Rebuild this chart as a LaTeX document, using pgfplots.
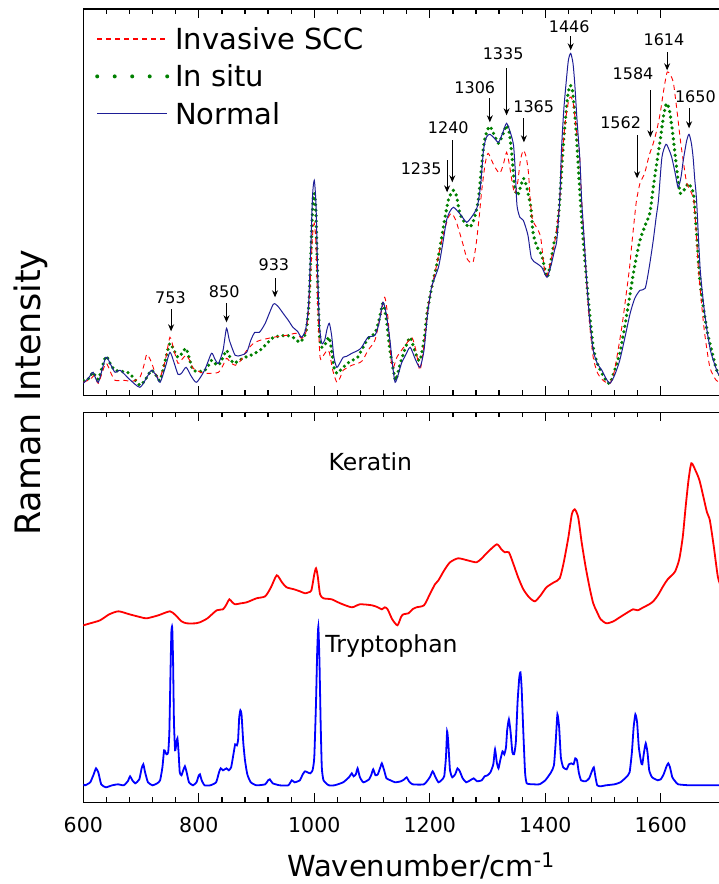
\documentclass[border=0pt]{standalone}
\usepackage{fontspec}
\setmainfont{DejaVu Sans}
\usepackage{pgfplots}
\pgfplotsset{compat=1.18}
\usetikzlibrary{arrows.meta}
\definecolor{sccred}{RGB}{255,0,0}
\definecolor{insitu}{RGB}{0,128,0}
\definecolor{normal}{RGB}{30,30,150}
\definecolor{kerc}{RGB}{255,0,0}
\definecolor{trpc}{RGB}{0,0,255}
\pgfplotsset{
 panel/.style={
  scale only axis, width=638.1pt, xmin=600, xmax=1705, ymin=0,
  xtick={600,800,...,1600}, minor x tick num=4, ytick=\empty,
  major tick length=9pt, minor tick length=5pt, tick align=inside,
  axis line style={line width=1.3pt},
  every tick/.style={black, line width=1.3pt},
  /pgf/number format/assume math mode=true,
  /pgf/number format/1000 sep={},
  xticklabel style={font=\fontsize{20.5}{20.5}\selectfont, inner sep=0pt, yshift=-14.4pt},
 },
}
\tikzset{
 ann/.style={font=\fontsize{16}{16}\selectfont, inner sep=0pt},
 arr/.style={line width=1pt, -{Stealth[length=7pt,width=6pt]}},
}
\begin{document}
\begin{tikzpicture}
% ---------------- top panel ----------------
\begin{axis}[panel, at={(83.3pt,-9pt)}, anchor=north west, height=386.3pt, ymax=386.3,
  xticklabels=\empty,
  legend cell align=left,
  legend style={draw=none, fill=none, inner sep=0pt, at={(axis cs:620.3,367)}, anchor=north west,
    font=\fontsize{29}{29}\selectfont, row sep=10.4pt,
    nodes={inner sep=0pt, text height=21pt, text depth=6pt},
    /tikz/every odd column/.append style={column sep=6pt}},
]
\addlegendimage{legend image code/.code={\draw[sccred, line width=1.1pt, dash pattern=on 5pt off 4pt] (0pt,3pt) -- (70pt,3pt);}}
\addlegendentry{Invasive SCC}
\addlegendimage{legend image code/.code={\draw[insitu, line width=4pt, line cap=round, dash pattern=on 0pt off 17.5pt] (0pt,3pt) -- (70pt,3pt);}}
\addlegendentry{In situ}
\addlegendimage{legend image code/.code={\draw[normal, line width=1pt] (0pt,3pt) -- (70pt,3pt);}}
\addlegendentry{Normal}
% In situ
\addplot[insitu, line width=3.6pt, line cap=round, dash pattern=on 0pt off 5.5pt, smooth, tension=0.4, forget plot] table {
x y
600 15
610 17
617 23
626 16
639 39
648 30
655 25
664 24
680 22
698 10
710 18
718 25
726 20
733 15
742 35
750 52
757 45
764 38
771 42
778 47
784 36
790 25
800 24
808 24
815 28
822 35
828 32
834 30
842 38
848 45
854 38
860 32
870 35
880 38
890 40
906 45
915 50
929 58
940 59
952 60
963 58
970 55
975 53
982 58
987 68
991 95
994 140
997 185
1000 202
1003 180
1006 110
1009 60
1013 48
1018 50
1022 55
1026 58
1030 45
1034 28
1039 22
1045 25
1050 28
1060 33
1075 38
1079 42
1093 57
1105 62
1112 75
1119 92
1125 75
1131 45
1137 25
1141 15
1148 30
1158 48
1166 58
1172 48
1178 38
1183 35
1190 55
1196 85
1203 107
1210 125
1217 145
1224 170
1232 195
1238 203
1241 205
1246 200
1252 182
1260 173
1269 168
1276 175
1284 195
1293 248
1298 262
1304 269
1312 260
1319 252
1326 260
1333 270
1338 262
1343 235
1347 208
1352 200
1358 210
1362 217
1366 212
1371 200
1375 188
1379 162
1386 148
1394 140
1403 118
1410 135
1416 155
1420 162
1425 195
1430 240
1434 270
1439 300
1443 310
1447 305
1452 275
1456 240
1460 202
1465 160
1472 112
1478 75
1483 48
1490 32
1498 22
1505 15
1512 12
1520 25
1529 42
1538 70
1547 102
1555 130
1564 155
1573 170
1581 182
1587 208
1593 232
1599 255
1605 280
1610 292
1615 285
1620 265
1625 240
1630 215
1634 202
1640 205
1648 212
1653 207
1657 200
1662 162
1667 120
1672 95
1680 65
1688 45
1697 25
1705 18
};
% Invasive SCC
\addplot[sccred, line width=0.9pt, dash pattern=on 5pt off 4pt, smooth, tension=0.4, forget plot] table {
x y
600 13
612 16
620 20
626 12
639 32
648 22
655 15
670 15
685 14
698 18
705 30
710 41
718 33
726 20
733 18
742 35
750 58
757 45
764 32
771 36
778 40
785 34
790 27
800 24
808 22
820 22
834 23
842 30
848 37
855 33
863 30
873 35
883 45
895 52
906 55
929 58
952 60
969 62
978 57
985 62
990 85
994 125
997 160
1000 172
1003 150
1006 90
1010 38
1016 40
1022 45
1026 43
1032 25
1039 13
1045 18
1050 25
1065 30
1076 32
1084 35
1093 45
1105 55
1114 78
1122 98
1128 75
1133 35
1137 28
1143 38
1151 45
1160 52
1169 58
1176 45
1183 25
1190 50
1196 85
1203 107
1210 125
1217 145
1224 162
1232 178
1238 182
1245 175
1252 162
1258 150
1264 137
1270 133
1275 133
1280 150
1285 175
1290 205
1296 232
1301 242
1307 235
1313 228
1321 222
1327 230
1333 243
1338 230
1343 212
1347 202
1352 212
1357 235
1362 245
1367 238
1371 222
1374 195
1378 175
1385 168
1392 158
1398 128
1403 120
1410 135
1416 152
1420 168
1425 195
1430 245
1435 275
1441 296
1445 298
1449 290
1454 265
1459 245
1463 195
1468 150
1472 108
1477 70
1483 38
1490 23
1498 16
1505 13
1512 12
1518 20
1524 38
1533 70
1541 105
1546 128
1550 152
1555 180
1558 195
1564 212
1572 222
1580 240
1587 252
1593 265
1599 282
1605 305
1611 323
1617 320
1622 312
1628 285
1634 255
1640 230
1645 212
1651 205
1657 195
1661 165
1665 128
1670 95
1676 62
1685 28
1696 15
1705 12
};
% Normal
\addplot[normal, line width=1pt, smooth, tension=0.4, forget plot] table {
x y
600 12
610 18
617 23
626 13
639 38
648 30
655 23
664 25
680 16
698 8
710 18
718 25
726 20
733 13
742 28
750 43
757 33
764 21
770 22
778 28
786 20
796 13
810 25
822 42
828 36
834 32
842 45
848 67
853 55
863 40
873 40
883 43
890 55
897 63
905 63
915 72
929 91
937 89
946 82
955 75
963 68
971 64
978 58
985 66
990 90
994 150
997 200
1000 215
1003 190
1006 120
1009 70
1013 52
1018 55
1022 66
1026 72
1030 60
1034 38
1039 28
1045 33
1050 38
1056 39
1065 42
1076 45
1082 48
1093 58
1105 60
1112 72
1119 93
1125 80
1131 55
1136 28
1140 13
1145 20
1151 32
1158 40
1166 48
1175 36
1183 28
1190 45
1196 80
1203 108
1215 128
1222 150
1229 175
1235 184
1241 188
1250 183
1258 177
1264 173
1272 178
1282 188
1288 210
1293 245
1298 258
1304 261
1312 257
1319 253
1326 262
1333 272
1340 262
1345 250
1348 225
1351 190
1356 178
1362 175
1370 160
1376 137
1385 132
1394 128
1403 118
1410 130
1416 145
1420 155
1425 195
1428 245
1432 285
1436 312
1440 335
1444 342
1448 332
1451 312
1455 275
1460 235
1463 195
1468 150
1472 112
1477 75
1483 45
1490 32
1498 25
1505 17
1512 12
1520 20
1529 35
1538 58
1547 82
1555 97
1564 105
1573 107
1580 128
1587 155
1592 178
1596 195
1602 238
1609 251
1614 246
1619 238
1625 222
1630 208
1635 218
1639 235
1645 255
1649 261
1653 252
1656 238
1659 215
1662 195
1668 128
1674 92
1680 65
1686 45
1691 35
1699 22
1705 18
};
% annotations
\node[ann] at (axis cs:751,98) {753};
\draw[arr] (axis cs:752,86) -- (axis cs:752,64);
\node[ann] at (axis cs:844,104) {850};
\draw[arr] (axis cs:848,92) -- (axis cs:848,73);
\node[ann] at (axis cs:930,131) {933};
\draw[arr] (axis cs:932,117) -- (axis cs:932,98);
\node[ann] at (axis cs:1185,227) {1235};
\draw[arr] (axis cs:1230,235) -- (axis cs:1230,203);
\node[ann] at (axis cs:1232,268) {1240};
\draw[arr] (axis cs:1239,255) -- (axis cs:1239,213);
\node[ann] at (axis cs:1278,308) {1306};
\draw[arr] (axis cs:1304,297) -- (axis cs:1304,273);
\node[ann] at (axis cs:1327,342) {1335};
\draw[arr] (axis cs:1333,327) -- (axis cs:1333,280);
\node[ann] at (axis cs:1380,289) {1365};
\draw[arr] (axis cs:1363,277) -- (axis cs:1363,253);
\node[ann] at (axis cs:1441.5,369) {1446};
\draw[arr] (axis cs:1444,359) -- (axis cs:1444,345);
\node[ann] at (axis cs:1605.5,356) {1614};
\draw[arr] (axis cs:1611,343) -- (axis cs:1611,325);
\node[ann] at (axis cs:1552,322) {1584};
\draw[arr] (axis cs:1582,305) -- (axis cs:1582,258);
\node[ann] at (axis cs:1660,299) {1650};
\draw[arr] (axis cs:1649,287) -- (axis cs:1649,267);
\node[ann] at (axis cs:1530.5,273) {1562};
\draw[arr] (axis cs:1559,260) -- (axis cs:1559,217);
\end{axis}
% ---------------- bottom panel ----------------
\begin{axis}[panel, at={(83.3pt,-412.3pt)}, anchor=north west, height=390pt, ymax=390]
\addplot[kerc, line width=1.8pt, smooth, tension=0.4] table {
x y
600 177
612 179
629 182
645 188
661 191
680 188
700 185
710 184
730 187
750 191
760 187
770 181
779 179
795 179
802 180
815 184
831 192
842 193
848 198
853 203
858 200
863 198
873 199
883 200
900 204
915 206
925 215
935 227
944 220
952 215
965 213
975 211
984 209
990 210
995 212
1000 228
1003 234
1006 226
1010 208
1016 204
1030 203
1045 199
1065 195
1079 198
1100 197
1110 195
1117 193
1122 195
1127 193
1135 183
1144 177
1150 185
1154 188
1163 189
1170 193
1177 195
1190 197
1200 208
1209 218
1215 222
1225 232
1235 240
1249 244
1265 242
1281 240
1290 244
1300 250
1316 258
1324 253
1330 250
1337 250
1345 238
1353 225
1362 213
1372 205
1382 201
1392 207
1402 215
1415 220
1425 224
1432 240
1440 265
1446 288
1451 293
1457 285
1463 260
1470 235
1477 214
1483 199
1489 191
1496 183
1506 179
1518 181
1529 185
1540 189
1552 193
1560 192
1570 195
1580 198
1587 201
1595 207
1605 217
1612 223
1619 227
1625 231
1632 243
1638 265
1643 295
1648 322
1653 339
1660 332
1667 322
1674 305
1680 290
1685 282
1692 255
1699 225
1705 215
};
\addplot[trpc, line width=1.8pt, smooth, tension=0.3] table {
x y
600 18
603 17
612 20
618 28
622 34
626 30
631 18
639 15
650 17
660 18
670 17
677 21
681 26
685 22
690 19
697 23
701 34
704 38
707 30
712 20
720 17
728 19
733 22
737 35
740 52
744 48
747 50
749 70
751 130
752.5 170
754 175
755.5 140
757 80
759 52
761 58
763 64
765 50
767 30
770 27
773 32
776 36
779 30
783 20
790 17
796 20
800 27
802 28
805 22
810 17
820 17
830 20
835 30
838 34
842 32
845 33
848 34
852 32
856 35
860 48
863 58
866 57
868 62
870 85
872 92
874 88
877 60
880 42
884 28
890 20
900 17
915 18
920 22
923 23
928 19
940 17
955 17
961 22
966 20
975 22
980 28
984 31
988 30
993 29
997 32
1000 45
1003 100
1005 150
1007 176
1009 140
1011 80
1013 35
1016 22
1025 17
1035 17
1050 20
1060 25
1065 29
1068 26
1072 28
1075 34
1079 25
1085 20
1095 23
1099 28
1102 33
1106 27
1110 28
1115 36
1117 39
1121 32
1125 24
1132 22
1140 20
1150 21
1156 23
1160 25
1164 21
1170 18
1190 18
1200 25
1205 31
1210 25
1215 20
1220 22
1225 26
1228 45
1230 71
1232 60
1235 32
1239 25
1244 28
1248 34
1252 31
1257 24
1263 20
1270 22
1276 24
1282 21
1290 22
1295 26
1300 27
1305 30
1310 38
1313 53
1316 40
1319 34
1322 42
1326 51
1329 48
1332 55
1334 72
1337 83
1340 70
1343 50
1346 48
1349 60
1352 100
1355 125
1357 130
1359 115
1362 70
1365 30
1368 19
1380 18
1390 18
1400 22
1410 30
1415 37
1418 60
1421 88
1424 75
1427 45
1431 35
1437 33
1441 38
1445 39
1449 38
1452 44
1455 42
1458 30
1462 22
1470 21
1476 24
1480 30
1484 35
1487 25
1490 17
1496 16
1505 17
1520 18
1530 20
1540 25
1546 30
1550 50
1553 75
1556 88
1559 80
1562 55
1566 40
1568 38
1571 50
1574 59
1577 50
1580 32
1585 25
1595 22
1600 23
1605 28
1610 36
1613 39
1616 35
1620 25
1625 21
1630 18
1650 17
1680 17
1705 17
};
\node[anchor=base west, font=\fontsize{23.5}{23.5}\selectfont, inner sep=0pt] at (axis cs:1024.4,331.7) {Keratin};
\node[anchor=base west, font=\fontsize{23.5}{23.5}\selectfont, inner sep=0pt] at (axis cs:1019,150) {Tryptophan};
\end{axis}
\node[rotate=90, anchor=base, inner sep=0pt, font=\fontsize{35}{35}\selectfont] at (40pt,-392.5pt) {Raman Intensity};
\node[anchor=base west, inner sep=0pt, font=\fontsize{29}{29}\selectfont] at (287pt,-876.7pt) {Wavenumber/cm\textsuperscript{-1}};
\pgfresetboundingbox
\useasboundingbox (0pt,0pt) rectangle (718pt,-884pt);
\end{tikzpicture}
\end{document}
